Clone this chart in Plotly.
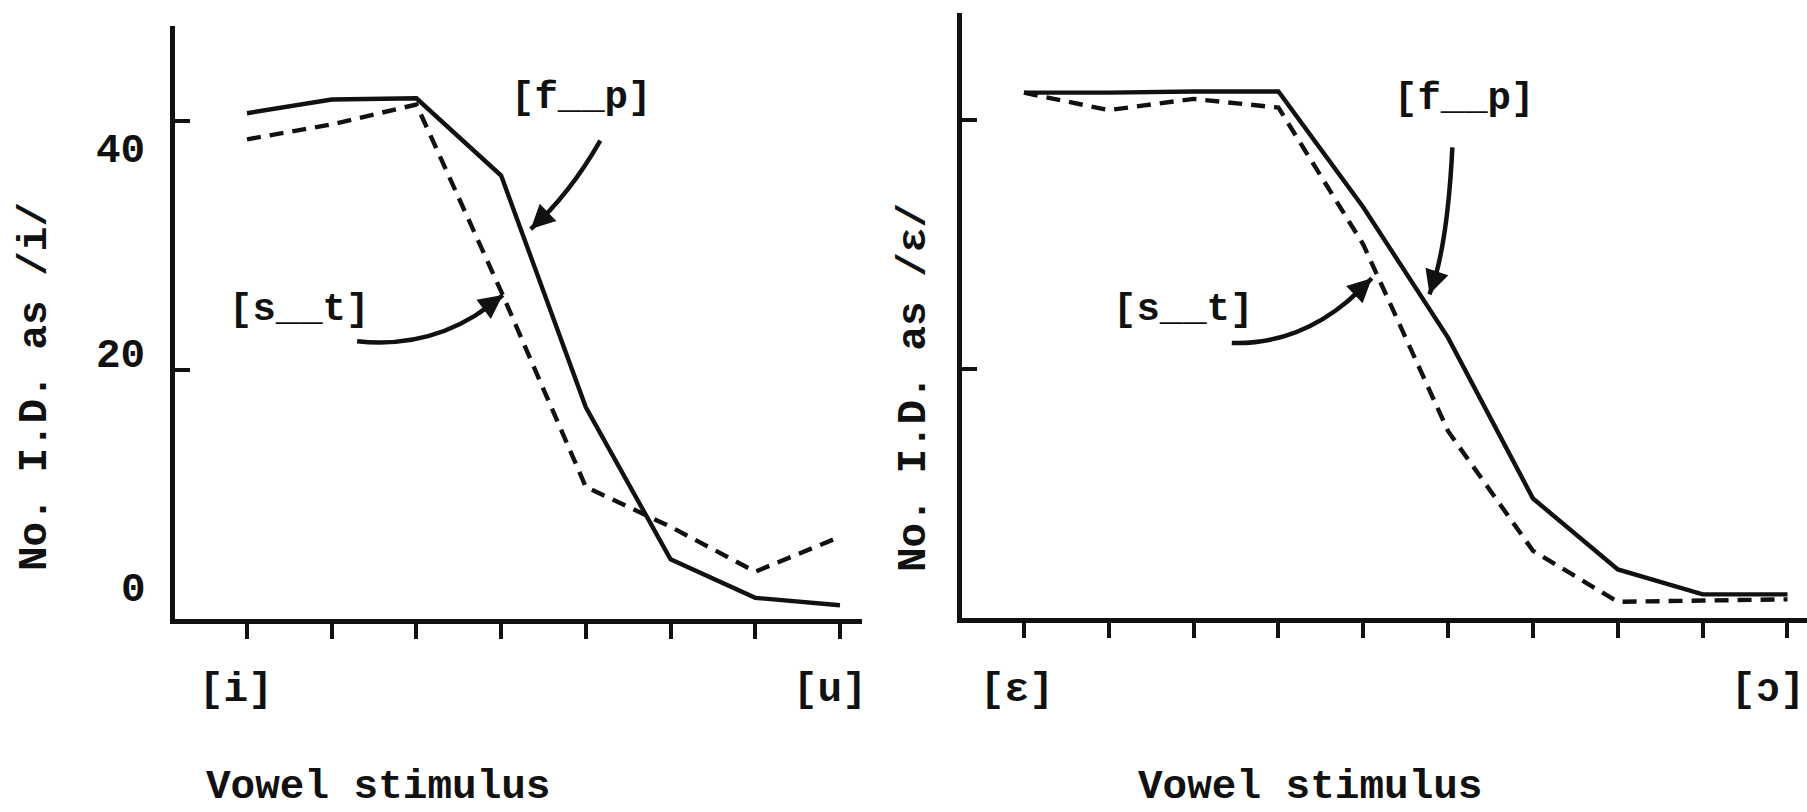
import plotly.graph_objects as go

W, H = 1807, 812

# ---------------- data ----------------
left_x = [1, 2, 3, 4, 5, 6, 7, 8]
left_fp = [40.6, 41.7, 41.8, 35.6, 17.0, 4.8, 1.7, 1.1]
left_st = [38.5, 39.7, 41.3, 26.3, 10.6, 7.4, 3.8, 6.6]

right_x = [1, 2, 3, 4, 5, 6, 7, 8, 9, 10]
right_fp = [42.2, 42.2, 42.3, 42.3, 33.0, 22.5, 9.6, 3.9, 1.9, 1.9]
right_st = [42.2, 40.8, 41.7, 41.0, 30.0, 15.0, 5.4, 1.3, 1.4, 1.5]

y_tick_vals = [0, 20, 40]
y_tick_text = ["0", "20", "40"]
left_end_labels = ["[i]", "[u]"]
right_end_labels = ["[ɛ]", "[ɔ]"]
x_title = "Vowel stimulus"
left_y_title = "No. I.D. as /i/"
right_y_title = "No. I.D. as /ɛ/"
series_names = ["[f__p]", "[s__t]"]

# ---------------- style ----------------
INK = "#111111"
FONT = "Liberation Mono, Courier New, DejaVu Sans Mono, monospace"
FS = 41
LW = 4.4
DASH = "14px,9px"


def px(x):
    return x / W


def py(y):
    return 1 - y / H


fig = go.Figure()

for xs, fp, st, xa, ya in [(left_x, left_fp, left_st, "x", "y"),
                           (right_x, right_fp, right_st, "x2", "y2")]:
    fig.add_trace(go.Scatter(x=xs, y=fp, mode="lines", xaxis=xa, yaxis=ya,
                             line=dict(color=INK, width=LW), name=series_names[0],
                             showlegend=False))
    fig.add_trace(go.Scatter(x=xs, y=st, mode="lines", xaxis=xa, yaxis=ya,
                             line=dict(color=INK, width=LW, dash=DASH), name=series_names[1],
                             showlegend=False))

axis_common = dict(showgrid=False, zeroline=False, showline=True, linecolor=INK,
                   linewidth=5, showticklabels=False, tickcolor=INK, tickwidth=3.5)

fig.update_layout(
    width=W, height=H,
    margin=dict(l=0, r=0, t=0, b=0),
    paper_bgcolor="white", plot_bgcolor="white",
    xaxis=dict(domain=[px(175), px(862)], range=[0.15, 8.26], anchor="y",
               tickvals=left_x, ticks="outside", ticklen=15, **axis_common),
    yaxis=dict(domain=[py(619), py(26)], range=[0, 47.6], anchor="x",
               tickvals=[20, 40], ticks="inside", ticklen=15, **axis_common),
    xaxis2=dict(domain=[px(962), 1.0], range=[0.27, 10.23], anchor="y2",
                tickvals=right_x, ticks="outside", ticklen=15, **axis_common),
    yaxis2=dict(domain=[py(618), py(13)], range=[0, 48.6], anchor="x2",
                tickvals=[20, 40], ticks="inside", ticklen=15, **axis_common),
)

ann = []
font = dict(family=FONT, size=FS, color=INK, weight="bold")

# y tick labels (left panel only), placed as in the original
lab_pos = {0: (133, 2.3), 20: (120, 21.1), 40: (120, 37.6)}
for v, t in zip(y_tick_vals, y_tick_text):
    xp, yv = lab_pos[v]
    ann.append(dict(x=px(xp), y=yv, xref="paper", yref="y", text=t, showarrow=False,
                    font=font, xanchor="center", yanchor="middle"))

# x end labels
ann.append(dict(x=left_x[0], y=py(690), xref="x", yref="paper", text=left_end_labels[0],
                showarrow=False, font=font, xanchor="center", yanchor="middle", xshift=-11))
ann.append(dict(x=left_x[-1], y=py(690), xref="x", yref="paper", text=left_end_labels[1],
                showarrow=False, font=font, xanchor="center", yanchor="middle", xshift=-10))
ann.append(dict(x=right_x[0], y=py(690), xref="x2", yref="paper", text=right_end_labels[0],
                showarrow=False, font=font, xanchor="center", yanchor="middle", xshift=-7))
ann.append(dict(x=1.0, y=py(690), xref="paper", yref="paper", text=right_end_labels[1],
                showarrow=False, font=font, xanchor="right", yanchor="middle"))

# axis titles
for cx in (378, 1310):
    ann.append(dict(x=px(cx), y=0, xref="paper", yref="paper", text=x_title,
                    showarrow=False, font=font, xanchor="center", yanchor="bottom"))
ann.append(dict(x=px(35), y=py(387), xref="paper", yref="paper", text=left_y_title,
                showarrow=False, font=font, textangle=-90, xanchor="center", yanchor="middle"))
ann.append(dict(x=px(914), y=py(388), xref="paper", yref="paper", text=right_y_title,
                showarrow=False, font=font, textangle=-90, xanchor="center", yanchor="middle"))

# series labels
lab_font = dict(family=FONT, size=39, color=INK, weight="bold")
for cx, cy, t in [(581, 98, series_names[0]), (1464, 99, series_names[0]),
                  (299, 310, series_names[1]), (1183, 310, series_names[1])]:
    ann.append(dict(x=px(cx), y=py(cy), xref="paper", yref="paper", text=t,
                    showarrow=False, font=lab_font, xanchor="center", yanchor="middle"))

# curved arrows: (start, control, tip) in data coords
arrows = [
    ("x", "y", (5.17, 38.4), (4.81, 34.1), (4.35, 31.3)),
    ("x", "y", (2.30, 22.3), (3.28, 21.6), (4.02, 26.0)),
    ("x2", "y2", (6.05, 37.8), (5.99, 29.6), (5.78, 26.0)),
    ("x2", "y2", (3.45, 22.1), (4.37, 21.9), (5.10, 27.3)),
]
shapes = []
for xr, yr, p0, c, p1 in arrows:
    shapes.append(dict(type="path", xref=xr, yref=yr,
                       path=f"M {p0[0]},{p0[1]} Q {c[0]},{c[1]} {p1[0]},{p1[1]}",
                       line=dict(color=INK, width=4.5)))
    t = 0.8
    bx = (1 - t) ** 2 * p0[0] + 2 * (1 - t) * t * c[0] + t ** 2 * p1[0]
    by = (1 - t) ** 2 * p0[1] + 2 * (1 - t) * t * c[1] + t ** 2 * p1[1]
    ann.append(dict(x=p1[0], y=p1[1], xref=xr, yref=yr, ax=bx, ay=by, axref=xr, ayref=yr,
                    text="", showarrow=True, arrowhead=2, arrowsize=1.2, arrowwidth=4,
                    arrowcolor=INK, standoff=0))

fig.update_layout(annotations=ann, shapes=shapes)
fig.write_html("out.html")
